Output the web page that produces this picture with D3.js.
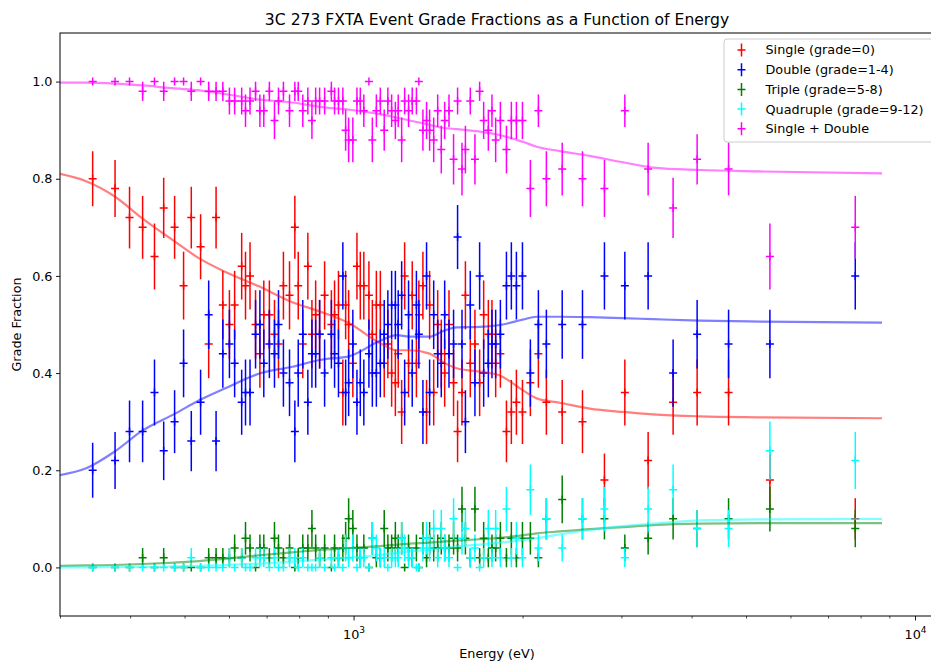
<!DOCTYPE html>
<html>
<head>
<meta charset="utf-8">
<script src="https://cdn.jsdelivr.net/npm/d3@7"></script>
<style>
  body { margin: 0; background: #fff; }
  text { font-family: "DejaVu Sans", sans-serif; fill: #000; }
</style>
</head>
<body>
<svg id="chart" width="931" height="661"></svg>
<script>
// Bin centre energies (eV)
const energyEv = [343, 376, 399, 421, 442, 459, 480, 498, 514, 534, 552, 569, 585, 601, 614, 632, 642, 654, 669, 681,
  692, 708, 723, 735, 750, 769, 786, 797, 812, 829, 843, 856, 870, 888, 913, 925, 940, 957, 968, 980,
  997, 1014, 1028, 1043, 1065, 1080, 1098, 1116, 1134, 1151, 1169, 1187, 1201, 1218, 1233, 1253, 1272, 1294, 1307, 1329,
  1349, 1366, 1389, 1412, 1433, 1453, 1479, 1507, 1532, 1560, 1582, 1614, 1645, 1677, 1705, 1738, 1764, 1791, 1826, 1872,
  1910, 1950, 1999, 2065, 2134, 2205, 2353, 2557, 2798, 3042, 3347, 3708, 4092, 4655, 5515, 7827];

// Measured grade fractions per bin
const singleFrac = [0.80, 0.78, 0.72, 0.70, 0.64, 0.74, 0.70, 0.58, 0.72, 0.66, 0.46, 0.72, 0.54, 0.50, 0.54, 0.62, 0.58, 0.60, 0.50, 0.44,
  0.52, 0.52, 0.48, 0.46, 0.58, 0.56, 0.70, 0.58, 0.46, 0.62, 0.48, 0.52, 0.48, 0.56, 0.50, 0.52, 0.54, 0.36, 0.54, 0.50,
  0.42, 0.62, 0.58, 0.58, 0.56, 0.48, 0.54, 0.54, 0.42, 0.46, 0.40, 0.38, 0.44, 0.32, 0.60, 0.42, 0.56, 0.42, 0.52, 0.58,
  0.32, 0.54, 0.36, 0.50, 0.44, 0.40, 0.50, 0.38, 0.28, 0.36, 0.56, 0.42, 0.46, 0.38, 0.52, 0.48, 0.48, 0.42, 0.44, 0.28,
  0.32, 0.34, 0.32, 0.38, 0.44, 0.34, 0.32, 0.30, 0.18, 0.36, 0.22, 0.34, 0.36, 0.36, 0.18, 0.10];

const doubleFrac = [0.20, 0.22, 0.28, 0.28, 0.36, 0.24, 0.30, 0.42, 0.26, 0.34, 0.52, 0.26, 0.44, 0.46, 0.42, 0.34, 0.36, 0.36, 0.48, 0.50,
  0.42, 0.46, 0.44, 0.50, 0.40, 0.38, 0.28, 0.40, 0.48, 0.34, 0.44, 0.44, 0.48, 0.40, 0.48, 0.44, 0.42, 0.60, 0.36, 0.38,
  0.46, 0.34, 0.38, 0.36, 0.44, 0.40, 0.40, 0.42, 0.48, 0.50, 0.54, 0.54, 0.50, 0.56, 0.36, 0.52, 0.40, 0.54, 0.48, 0.32,
  0.60, 0.36, 0.52, 0.44, 0.42, 0.52, 0.44, 0.46, 0.68, 0.46, 0.30, 0.54, 0.38, 0.60, 0.40, 0.42, 0.46, 0.46, 0.48, 0.58,
  0.60, 0.58, 0.60, 0.40, 0.50, 0.46, 0.50, 0.50, 0.60, 0.58, 0.60, 0.40, 0.48, 0.46, 0.46, 0.60];

const tripleFrac = [0, 0, 0, 0.02, 0, 0.02, 0, 0, 0, 0, 0.02, 0.02, 0.02, 0.02, 0.04, 0.02, 0.06, 0.04, 0, 0.04,
  0.04, 0.02, 0.06, 0.04, 0.02, 0.04, 0, 0.02, 0.04, 0.04, 0.08, 0.04, 0.02, 0.04, 0, 0.04, 0.02, 0.04, 0.06, 0.10,
  0.08, 0.04, 0.02, 0.04, 0, 0.06, 0.02, 0.02, 0.08, 0.04, 0.04, 0.06, 0.04, 0.06, 0, 0.04, 0.02, 0.04, 0, 0.06,
  0.02, 0.06, 0.04, 0.04, 0.06, 0.04, 0.04, 0.06, 0.04, 0.12, 0.06, 0.02, 0.12, 0.02, 0.06, 0.02, 0.04, 0.04, 0.06, 0.02,
  0.06, 0.02, 0.06, 0.06, 0.02, 0.10, 0.14, 0.10, 0.10, 0.04, 0.06, 0.10, 0.08, 0.10, 0.12, 0.08];

const quadFrac = [0, 0, 0, 0, 0, 0, 0, 0, 0.02, 0, 0, 0, 0, 0.02, 0, 0.02, 0, 0, 0.02, 0.02,
  0.02, 0, 0.02, 0, 0, 0.02, 0.02, 0, 0.02, 0, 0, 0, 0.02, 0, 0.02, 0, 0.02, 0, 0.04, 0.02,
  0.04, 0, 0.02, 0.02, 0, 0.06, 0.04, 0.02, 0.02, 0, 0.02, 0.02, 0.02, 0.06, 0.04, 0.02, 0.02, 0, 0, 0.04,
  0.06, 0.04, 0.08, 0.02, 0.08, 0.04, 0.02, 0.10, 0, 0.06, 0.08, 0.02, 0.04, 0, 0.02, 0.08, 0.02, 0.08, 0.02, 0.12,
  0.02, 0.06, 0.02, 0.16, 0.04, 0.10, 0.04, 0.10, 0.12, 0.02, 0.12, 0.16, 0.08, 0.08, 0.24, 0.22];

const singlePlusDoubleFrac = [1.00, 1.00, 1.00, 0.98, 1.00, 0.98, 1.00, 1.00, 0.98, 1.00, 0.98, 0.98, 0.98, 0.96, 0.96, 0.96, 0.94, 0.96, 0.98, 0.94,
  0.94, 0.98, 0.92, 0.96, 0.98, 0.94, 0.98, 0.98, 0.94, 0.96, 0.92, 0.96, 0.96, 0.96, 0.98, 0.96, 0.96, 0.96, 0.90, 0.88,
  0.88, 0.96, 0.96, 0.94, 1.00, 0.88, 0.94, 0.96, 0.90, 0.96, 0.94, 0.92, 0.94, 0.88, 0.96, 0.94, 0.96, 0.96, 1.00, 0.90,
  0.92, 0.90, 0.88, 0.94, 0.86, 0.92, 0.94, 0.84, 0.96, 0.82, 0.86, 0.96, 0.84, 0.98, 0.92, 0.90, 0.94, 0.88, 0.92, 0.86,
  0.92, 0.92, 0.92, 0.78, 0.94, 0.80, 0.82, 0.80, 0.78, 0.94, 0.82, 0.74, 0.84, 0.82, 0.64, 0.70];

// Events per energy bin: binomial uncertainty of each fraction
const eventsPerBin = 50;

// Model grade fractions
const modelEnergy = [300, 334, 375, 421, 480, 531, 594, 680, 778, 870, 984, 1113, 1193, 1258, 1366, 1441, 1526, 1677,
  1821, 2001, 2119, 2329, 2635, 3017, 3412, 4138, 5293, 8734];
const modelSingle = [0.810, 0.795, 0.764, 0.718, 0.671, 0.636, 0.607, 0.578, 0.546, 0.527, 0.502, 0.462, 0.447, 0.447,
  0.440, 0.423, 0.410, 0.403, 0.395, 0.365, 0.348, 0.339, 0.327, 0.320, 0.315, 0.311, 0.309, 0.307];
const modelDouble = [0.190, 0.204, 0.238, 0.282, 0.316, 0.344, 0.370, 0.399, 0.413, 0.427, 0.435, 0.466, 0.478, 0.475,
  0.475, 0.486, 0.494, 0.495, 0.499, 0.510, 0.516, 0.516, 0.515, 0.513, 0.511, 0.508, 0.506, 0.504];
const modelTriple = [0.003, 0.004, 0.005, 0.007, 0.010, 0.013, 0.018, 0.025, 0.031, 0.036, 0.040, 0.044, 0.047, 0.049,
  0.051, 0.053, 0.055, 0.058, 0.061, 0.066, 0.070, 0.074, 0.079, 0.083, 0.087, 0.090, 0.091, 0.091];
const modelQuad = [0.000, 0.000, 0.001, 0.001, 0.002, 0.003, 0.005, 0.008, 0.012, 0.016, 0.020, 0.026, 0.030, 0.033,
  0.036, 0.040, 0.043, 0.047, 0.051, 0.056, 0.060, 0.068, 0.077, 0.085, 0.090, 0.097, 0.099, 0.100];
const modelSinglePlusDouble = [0.998, 0.998, 0.996, 0.992, 0.986, 0.982, 0.974, 0.963, 0.957, 0.948, 0.942, 0.933, 0.926, 0.920,
  0.911, 0.905, 0.902, 0.897, 0.890, 0.876, 0.866, 0.857, 0.847, 0.834, 0.823, 0.818, 0.815, 0.811];

const seriesNames = ["Single (grade=0)", "Double (grade=1-4)", "Triple (grade=5-8)", "Quadruple (grade=9-12)", "Single + Double"];
const seriesColors = ["#ff0000", "#0000ff", "#008000", "#00ffff", "#ff00ff"];
const seriesValues = [singleFrac, doubleFrac, tripleFrac, quadFrac, singlePlusDoubleFrac];
const seriesModels = [modelSingle, modelDouble, modelTriple, modelQuad, modelSinglePlusDouble];

const yTickValues = [0.0, 0.2, 0.4, 0.6, 0.8, 1.0];
const xMajorTicks = [1000, 10000];
const xMinorTicks = [300, 400, 500, 600, 700, 800, 900, 2000, 3000, 4000, 5000, 6000, 7000, 8000, 9000];

// ---- layout ----
const W = 931, H = 661;
const plot = { left: 60, top: 33, right: 934, bottom: 616 };

const svg = d3.select("#chart");
svg.append("rect").attr("width", W).attr("height", H).attr("fill", "#fff");

const x = d3.scaleLog().domain([300, 10810]).range([plot.left, plot.right]);
const y = d3.scaleLinear().domain([-0.1, 1.1]).range([plot.bottom, plot.top]);

svg.append("defs").append("clipPath").attr("id", "plotClip")
  .append("rect").attr("x", plot.left).attr("y", plot.top)
  .attr("width", plot.right - plot.left).attr("height", plot.bottom - plot.top);

const dataLayer = svg.append("g").attr("clip-path", "url(#plotClip)");

// error bars with "+" markers
seriesValues.forEach((vals, si) => {
  const color = seriesColors[si];
  const g = dataLayer.append("g").attr("stroke", color).attr("stroke-width", 1.5).attr("fill", "none");
  const pts = vals.map((f, i) => ({ e: energyEv[i], f, err: Math.sqrt(f * (1 - f) / eventsPerBin) }));
  g.selectAll("line.bar").data(pts.filter(d => d.err > 0)).join("line").attr("class", "bar")
    .attr("x1", d => x(d.e)).attr("x2", d => x(d.e))
    .attr("y1", d => y(d.f - d.err)).attr("y2", d => y(d.f + d.err));
  g.selectAll("path.mk").data(pts).join("path").attr("class", "mk")
    .attr("d", d => {
      const cx = x(d.e), cy = y(d.f);
      return `M${cx - 4},${cy}H${cx + 4}M${cx},${cy - 4}V${cy + 4}`;
    });
});

// model curves
const line = d3.line().x(d => x(d[0])).y(d => y(d[1])).curve(d3.curveMonotoneX);
seriesModels.forEach((m, si) => {
  dataLayer.append("path")
    .datum(m.map((v, i) => [modelEnergy[i], v]))
    .attr("d", line)
    .attr("fill", "none")
    .attr("stroke", seriesColors[si])
    .attr("stroke-opacity", 0.5)
    .attr("stroke-width", 2.2);
});

// axes
const fontPx = 12.8;
const yAxis = svg.append("g").attr("transform", `translate(${plot.left},0)`)
  .call(d3.axisLeft(y).tickValues(yTickValues).tickFormat(d3.format(".1f")).tickSize(4).tickPadding(3.5));
yAxis.select(".domain").remove();
yAxis.selectAll("text").attr("font-size", fontPx).attr("font-family", "DejaVu Sans");
yAxis.selectAll("line").attr("stroke", "#000").attr("stroke-width", 0.9);

const xMinor = svg.append("g").attr("transform", `translate(0,${plot.bottom})`)
  .call(d3.axisBottom(x).tickValues(xMinorTicks).tickFormat("").tickSize(2.5));
xMinor.select(".domain").remove();
xMinor.selectAll("line").attr("stroke", "#000").attr("stroke-width", 0.7);

const xMajor = svg.append("g").attr("transform", `translate(0,${plot.bottom})`)
  .call(d3.axisBottom(x).tickValues(xMajorTicks).tickFormat("").tickSize(4.5));
xMajor.select(".domain").remove();
xMajor.selectAll("line").attr("stroke", "#000").attr("stroke-width", 0.9);
xMajor.selectAll(".tick").each(function (d) {
  const t = d3.select(this).append("text")
    .attr("y", 23).attr("text-anchor", "middle")
    .attr("font-size", fontPx).attr("font-family", "DejaVu Sans");
  t.append("tspan").text("10");
  t.append("tspan").attr("dy", -6).attr("font-size", 9).text(String(Math.round(Math.log10(d))));
});

// frame
svg.append("rect")
  .attr("x", plot.left).attr("y", plot.top)
  .attr("width", plot.right - plot.left).attr("height", plot.bottom - plot.top)
  .attr("fill", "none").attr("stroke", "#000").attr("stroke-width", 1);

// labels
svg.append("text").attr("x", (plot.left + plot.right) / 2).attr("y", 25)
  .attr("text-anchor", "middle").attr("font-size", 15.6)
  .text("3C 273 FXTA Event Grade Fractions as a Function of Energy");
svg.append("text").attr("x", (plot.left + plot.right) / 2).attr("y", 658)
  .attr("text-anchor", "middle").attr("font-size", fontPx).text("Energy (eV)");
svg.append("text").attr("transform", `translate(21,${(plot.top + plot.bottom) / 2}) rotate(-90)`)
  .attr("text-anchor", "middle").attr("font-size", fontPx).text("Grade Fraction");

// legend
const legend = svg.append("g").attr("transform", "translate(724,39)");
legend.append("rect").attr("width", 230).attr("height", 103).attr("rx", 3)
  .attr("fill", "#fff").attr("fill-opacity", 0.8).attr("stroke", "#cccccc").attr("stroke-width", 1);
seriesNames.forEach((name, i) => {
  const row = legend.append("g").attr("transform", `translate(0,${11 + i * 19.7})`);
  row.append("path").attr("d", "M17.5,-6.5V6.5M13.5,0H21.5")
    .attr("stroke", seriesColors[i]).attr("stroke-width", 1.5).attr("fill", "none");
  row.append("text").attr("x", 41.5).attr("dy", "0.35em").attr("font-size", fontPx).text(name);
});
</script>
</body>
</html>
